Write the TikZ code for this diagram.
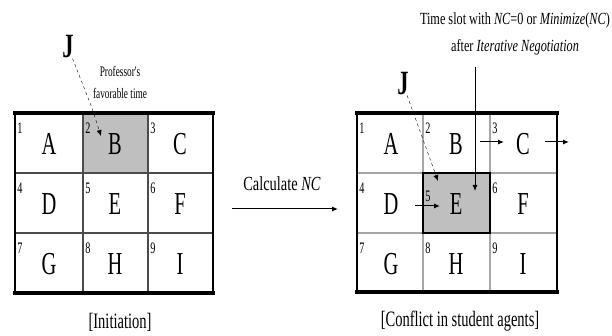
\documentclass[tikz,border=0pt]{standalone}
\usepackage{fontspec}
\setmainfont{Liberation Serif}
\newfontfamily\condL[FakeStretch=0.64]{Liberation Serif}
\newfontfamily\condT[FakeStretch=0.72]{Liberation Serif}
\newfontfamily\condM[FakeStretch=0.72]{Liberation Serif}
\newfontfamily\condC[FakeStretch=0.66]{Liberation Serif}
\usetikzlibrary{arrows.meta}
\tikzset{
  letterlab/.style={font=\condL\fontsize{32}{32}\selectfont, inner sep=0pt},
  numlab/.style={font=\condL\fontsize{16}{16}\selectfont, inner sep=0pt},
  captext/.style={font=\condC\fontsize{22}{22}\selectfont, inner sep=0pt},
  notetext/.style={font=\condT\fontsize{17}{17}\selectfont, inner sep=0pt},
  proftext/.style={font=\condL\fontsize{14.5}{14.5}\selectfont, inner sep=0pt},
  calctext/.style={font=\condM\fontsize{20}{20}\selectfont, inner sep=0pt},
  jlab/.style={font=\condC\bfseries\fontsize{34}{34}\selectfont, inner sep=0pt},
  thickborder/.style={line width=3.5pt, line cap=rect},
  sideborder/.style={line width=2.8pt},
  innerdark/.style={line width=1.3pt, draw=black!70},
  innerlight/.style={line width=1.3pt, draw=black!35},
  arrowtip/.style={-{Latex[length=6pt,width=5pt]}},
  cellfill/.style={fill=black!25},
}
\begin{document}
\begin{tikzpicture}[x=1pt,y=-1pt]
\useasboundingbox (0,0) rectangle (612,336);

% ---------- left grid ----------
\fill[cellfill] (83,113) rectangle (148,173);
\foreach \x in {83,148} \draw[innerdark] (\x,113) -- (\x,293);
\foreach \y in {173,233} \draw[innerdark] (15,\y) -- (213,\y);
\draw[sideborder] (15,113) -- (15,293);
\draw[sideborder] (213,113) -- (213,293);
\draw[thickborder] (15,113) -- (213,113);
\draw[thickborder] (15,293) -- (213,293);

\node[letterlab] (lA) at (49,144) {A};
\node[letterlab] (lB) at (115,144) {B};
\node[letterlab] (lC) at (180,144) {C};
\node[letterlab] (lD) at (49,204) {D};
\node[letterlab] (lE) at (115,204) {E};
\node[letterlab] (lF) at (180,204) {F};
\node[letterlab] (lG) at (49,264) {G};
\node[letterlab] (lH) at (115,264) {H};
\node[letterlab] (lI) at (180,264) {I};
\node[numlab] (ln1) at (20,128) {1};
\node[numlab] (ln2) at (88,128) {2};
\node[numlab] (ln3) at (153,128) {3};
\node[numlab] (ln4) at (20,188) {4};
\node[numlab] (ln5) at (88,188) {5};
\node[numlab] (ln6) at (153,188) {6};
\node[numlab] (ln7) at (20,248) {7};
\node[numlab] (ln8) at (88,248) {8};
\node[numlab] (ln9) at (153,248) {9};

\node[jlab] (lJ) at (68,47) {J};
\node[proftext] (prof1) at (120,71) {Professor's};
\node[proftext] (prof2) at (120,93) {favorable time};
\coordinate (lbend) at (92,108);
\coordinate (ltip) at (101,136);
\draw[dashed, arrowtip] (lJ) -- (lbend) -- (ltip);

\node[captext] (capL) at (120,322) {[Initiation]};

% ---------- middle arrow ----------
\node[calctext] (calc) at (282,184) {Calculate \textit{NC}};
\coordinate (mstart) at (232,209);
\coordinate (mend) at (338,209);
\draw[line width=1pt, arrowtip] (mstart) -- (mend);

% ---------- right grid ----------
\foreach \x in {423,490} \draw[innerlight] (\x,113) -- (\x,292);
\foreach \y in {173,233} \draw[innerlight] (357,\y) -- (557,\y);
\fill[cellfill] (423,173) rectangle (490,233);
\draw[line width=1.6pt] (423,173) rectangle (490,233);
\draw[sideborder] (357,113) -- (357,292);
\draw[sideborder] (557,113) -- (557,292);
\draw[thickborder] (357,113) -- (557,113);
\draw[thickborder] (357,292) -- (557,292);

\node[letterlab] (rA) at (391,144) {A};
\node[letterlab] (rB) at (456,144) {B};
\node[letterlab] (rC) at (523,144) {C};
\node[letterlab] (rD) at (391,204) {D};
\node[letterlab] (rE) at (456,204) {E};
\node[letterlab] (rF) at (523,204) {F};
\node[letterlab] (rG) at (391,264) {G};
\node[letterlab] (rH) at (456,264) {H};
\node[letterlab] (rI) at (523,264) {I};
\node[numlab] (rn1) at (362,128) {1};
\node[numlab] (rn2) at (428,128) {2};
\node[numlab] (rn3) at (495,128) {3};
\node[numlab] (rn4) at (362,188) {4};
\node[numlab] (rn5) at (428,196) {5};
\node[numlab] (rn6) at (495,188) {6};
\node[numlab] (rn7) at (362,248) {7};
\node[numlab] (rn8) at (428,248) {8};
\node[numlab] (rn9) at (495,248) {9};

\node[jlab] (rJ) at (403,84) {J};
\coordinate (rtip) at (438,181);
\draw[dashed, arrowtip] (rJ) -- (rtip);

\node[notetext] (note1) at (515,20) {Time slot with \textit{NC}=0 or \textit{Minimize}(\textit{NC})};
\node[notetext] (note2) at (515,47) {after \textit{Iterative Negotiation}};
\coordinate (vtop) at (475,67);
\coordinate (vtip) at (475,191);
\draw[line width=0.8pt, arrowtip] (vtop) -- (vtip);

\coordinate (bc1) at (480,142);
\coordinate (bc2) at (504,142);
\draw[line width=1pt, arrowtip] (bc1) -- (bc2);
\coordinate (co1) at (545,142);
\coordinate (co2) at (569,142);
\draw[line width=1pt, arrowtip] (co1) -- (co2);
\coordinate (de1) at (415,206);
\coordinate (de2) at (440,206);
\draw[line width=1pt, arrowtip] (de1) -- (de2);

\node[captext] (capR) at (460,321) {[Conflict in student agents]};
\end{tikzpicture}
\end{document}
